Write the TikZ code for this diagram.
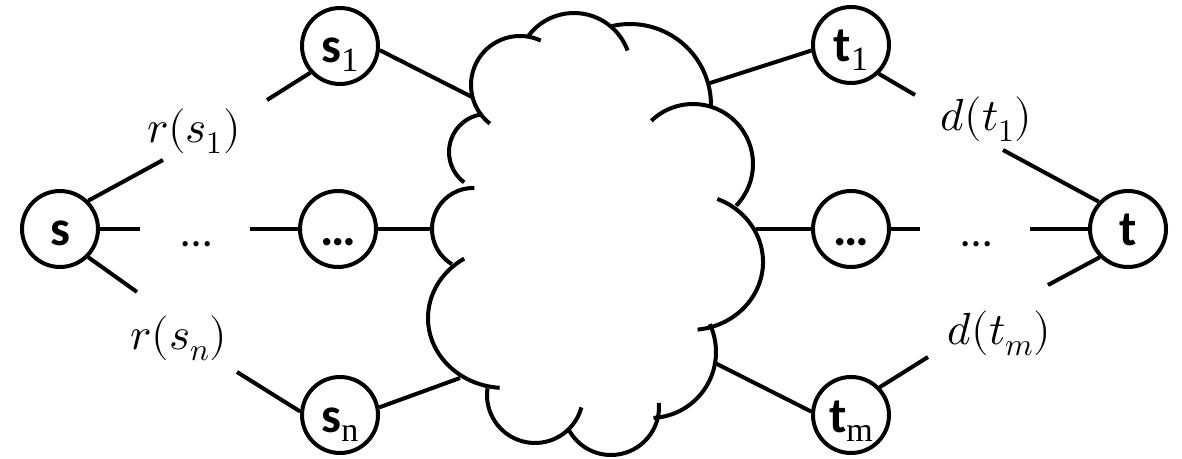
\documentclass[tikz,border=0pt]{standalone}
\usepackage{fontspec}
\usepackage{unicode-math}
\setmainfont{Carlito}
\newfontfamily\subfont{Liberation Serif}
\usetikzlibrary{calc}
\tikzstyle{vertex} = [%
					circle, draw,
					line width = 4pt,
					minimum size = 76pt, inner sep = 0pt,
					text height = 34pt, text depth = 0pt,
					font = \fontsize{50}{60}\selectfont\bfseries
					]
\tikzstyle{weight} = [font = \fontsize{45}{50}\selectfont]
\tikzstyle{gapdots} = [font = \fontsize{44}{48}\selectfont, anchor = base]
\newcommand{\nodesub}[1]{\raisebox{-9pt}{\fontsize{34}{34}\selectfont\mdseries\subfont #1}}

\begin{document}
\begin{tikzpicture}[x=1pt, y=1pt, line width=4pt]
	\useasboundingbox (0,0) rectangle (1182,458);

	% Nodes
	\node[vertex] (s)  at (60,229)   {s};
	\node[vertex] (s1) at (340,412)  {s\nodesub{1}};
	\node[vertex] (dl) at (338,229)  {\dots};
	\node[vertex] (sn) at (340,43)   {s\nodesub{n}};
	\node[vertex] (t1) at (851,413)  {t\nodesub{1}};
	\node[vertex] (dr) at (851,229)  {\dots};
	\node[vertex] (tm) at (851,43)   {t\nodesub{m}};
	\node[vertex] (t)  at (1128,229) {t};

	% Coordinates
	\coordinate (a1) at (163,298);
	\coordinate (b1) at (267,358);
	\coordinate (a2) at (137,166);
	\coordinate (b2) at (237,86);
	\coordinate (m1) at (140,229);
	\coordinate (m2) at (250,229);
	\coordinate (a3) at (915,363);
	\coordinate (b3) at (1003,308);
	\coordinate (a4) at (1048,173);
	\coordinate (b4) at (928,101);
	\coordinate (m3) at (920,229);
	\coordinate (m4) at (1030,229);
	\coordinate (cA) at (472,361);
	\coordinate (cB) at (432,229);
	\coordinate (cC) at (460,80);
	\coordinate (cD) at (710,375);
	\coordinate (cE) at (756,229);
	\coordinate (cF) at (715,95);

	% Labels
	\node[weight] (rs1) at (194,327) {$r(s_1)$};
	\node[weight] (rsn) at (179,120) {$r(s_n)$};
	\node[weight] (dt1) at (986,339) {$d(t_1)$};
	\node[weight] (dtm) at (999,125) {$d(t_m)$};
	\node[gapdots] (gl) at (197,211) {\dots};
	\node[gapdots] (gr) at (977,211) {\dots};

	% Left edges
	\draw (s.45) -- (a1);
	\draw (b1) -- (s1.222);
	\draw (s.-45) -- (a2);
	\draw (b2) -- (sn.175);
	\draw (s) -- (m1);
	\draw (m2) -- (dl);
	\draw (s1.-6) -- (cA);
	\draw (dl) -- (cB);
	\draw (sn.11) -- (cC);

	% Right edges
	\draw (cD) -- (t1.188);
	\draw (cE) -- (dr);
	\draw (cF) -- (tm.175);
	\draw (t1.-46) -- (a3);
	\draw (b3) -- (t.137);
	\draw (t.225) -- (a4);
	\draw (b4) -- (tm.44);
	\draw (dr) -- (m3);
	\draw (m4) -- (t);

	% Cloud
	\draw (520,373) ++(232:49) arc[start angle=232, end angle=65, radius=49];
	\draw (574,388) ++(143:57) arc[start angle=143, end angle=20, radius=57];
	\draw (630,353) ++(103:81) arc[start angle=103, end angle=-2, radius=81];
	\draw (693,294) ++(134:60) arc[start angle=134, end angle=-44, radius=60];
	\draw (690,196) ++(68:73 and 68) arc[start angle=68, end angle=-84, x radius=73, y radius=68];
	\draw (650,106) ++(25:66) arc[start angle=25, end angle=-87, radius=66];
	\draw (611,51) ++(5:48) arc[start angle=5, end angle=-152, radius=48];
	\draw (535,63) ++(-15:48) arc[start angle=-15, end angle=-188, radius=48];
	\draw (505,140) ++(266:77 and 70) arc[start angle=266, end angle=122, x radius=77, y radius=70];
	\draw (473,229) ++(239:41) arc[start angle=239, end angle=88, radius=41];
	\draw (487,306) ++(233:38) arc[start angle=233, end angle=97, radius=38];

\end{tikzpicture}
\end{document}
